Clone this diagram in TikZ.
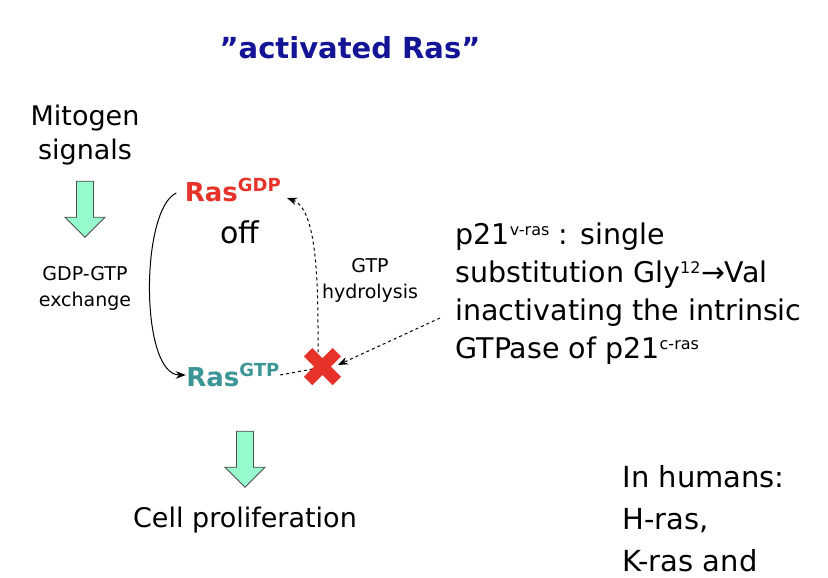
\documentclass[tikz,border=0pt]{standalone}
\usepackage{fontspec}
\setmainfont{DejaVu Sans}
\usetikzlibrary{shapes.arrows,arrows.meta}
\definecolor{tblue}{RGB}{20,20,150}
\definecolor{rasred}{RGB}{230,50,40}
\definecolor{rasteal}{RGB}{60,150,150}
\definecolor{agreen}{RGB}{150,250,205}
\tikzset{
  big/.style={font=\fontsize{27}{34}\selectfont, align=center, inner sep=0},
  small/.style={font=\fontsize{19}{26}\selectfont, align=center, inner sep=0},
  blockarrow/.style={single arrow, shape border rotate=270, draw=black!70, line width=0.8pt, fill=agreen, minimum width=40pt, single arrow head extend=6pt, single arrow head indent=0pt, minimum height=56pt, inner sep=4pt},
}
\begin{document}
\begin{tikzpicture}[x=1pt,y=-1pt, line width=1pt]
\useasboundingbox (0,0) rectangle (828,578);
\node[inner sep=0, text=tblue, font=\bfseries\fontsize{29}{34}\selectfont] (title) at (350,48) {\char34 activated Ras\char34};
\node[big] (mito) at (85,135) {Mitogen\\signals};
\node[blockarrow] (a1) at (85,205) {};
\node[small] (exch) at (85,288) {GDP-GTP\\exchange};
\node[big, text=rasred, font=\bfseries\fontsize{26}{34}\selectfont] (gdp) at (233,190) {Ras\textsuperscript{\fontsize{18}{18}\selectfont GDP}};
\node[big, font=\fontsize{30}{34}\selectfont] (off) at (240,232) {off};
\node[big, text=rasteal, font=\bfseries\fontsize{26}{34}\selectfont] (gtp) at (233,375) {Ras\textsuperscript{\fontsize{18}{18}\selectfont GTP}};
\coordinate (c1) at (318,368);
\draw[-{Stealth[length=10pt]}] (gdp.west) ++(-8,3) .. controls (140,210) and (140,375) .. (gtp.west);
\draw[dashed, -{Stealth[length=10pt]}] (gtp.east) -- (c1) .. controls (318,300) and (320,210) .. (287,198);
\node[small] (hyd) at (370,280) {GTP\\hydrolysis};
\node[text=rasred, font=\bfseries\fontsize{56}{56}\selectfont, inner sep=0] (x) at (323,368) {\symbol{"2716}};
\draw[dashed, -{Stealth[length=10pt]}] (440,318) -- (338,365);
\node[big, align=left, anchor=north west, font=\fontsize{28.5}{38}\selectfont] (txt) at (455,222) {p21\textsuperscript{\fontsize{16}{16}\selectfont v-ras} : single\\substitution Gly\textsuperscript{\fontsize{16}{16}\selectfont 12}→Val\\inactivating the intrinsic\\GTPase of p21\textsuperscript{\fontsize{16}{16}\selectfont c-ras}};
\node[blockarrow] (a2) at (245,455) {};
\node[big] (cell) at (245,520) {Cell proliferation};
\node[big, align=left, anchor=north west, font=\fontsize{29}{42}\selectfont] (hum) at (622,465) {In humans:\\H-ras,\\K-ras and};
\end{tikzpicture}
\end{document}
